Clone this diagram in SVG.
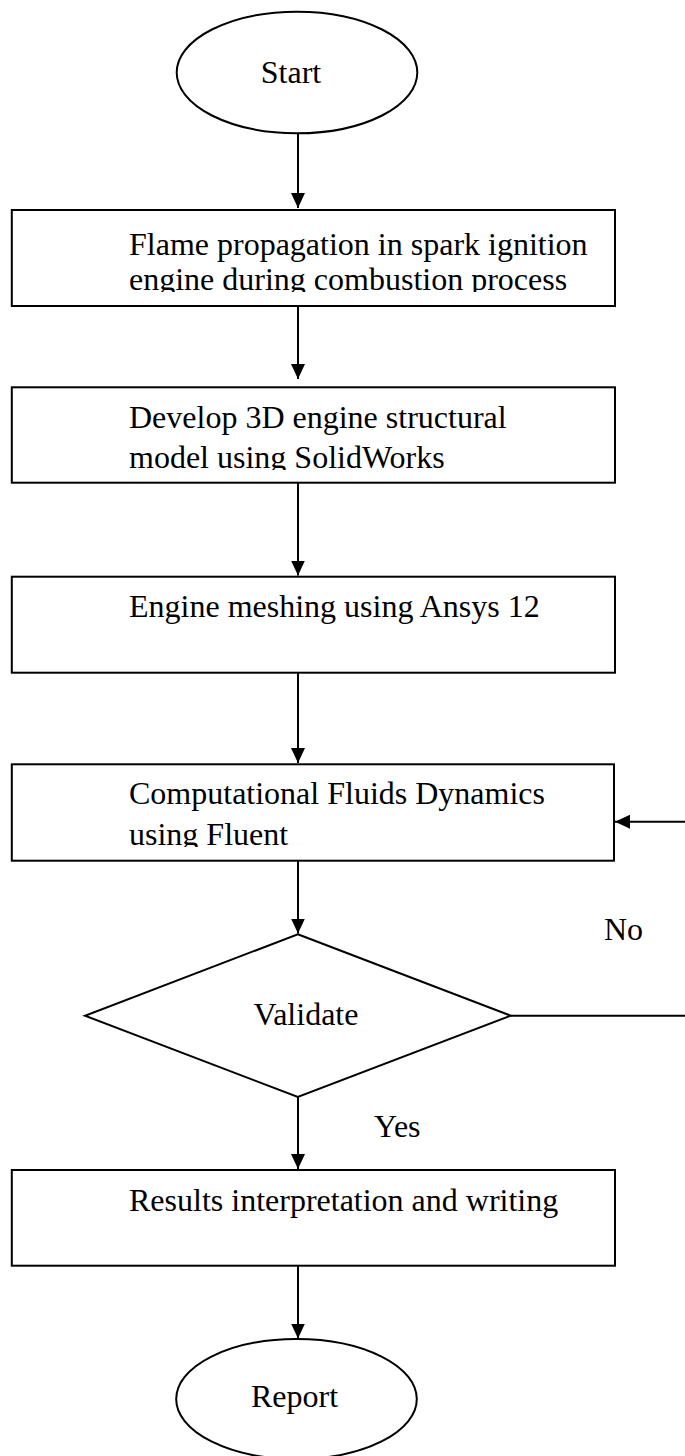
<svg xmlns="http://www.w3.org/2000/svg" width="685" height="1456" viewBox="0 0 685 1456">
<style>
.shape{fill:#fff;stroke:#000;stroke-width:2}
.lbl{font-family:"Liberation Serif","Times New Roman",serif;font-size:32px;fill:#000}
.conn{stroke:#000;stroke-width:2;fill:none}
</style>
<defs>
<marker id="ah" markerUnits="userSpaceOnUse" markerWidth="16" markerHeight="14" refX="15" refY="7" orient="auto"><path d="M0,0 L15,7 L0,14 z" fill="#000"/></marker>
<clipPath id="c1"><rect x="12" y="210" width="602" height="82"/></clipPath>
<clipPath id="c2"><rect x="12" y="387" width="602" height="83"/></clipPath>
<clipPath id="c4"><rect x="12" y="764" width="601" height="83"/></clipPath>
</defs>
<rect x="0" y="0" width="685" height="1456" fill="#fff"/>
<g id="connectors">
<path class="conn" d="M298,133.5 V208" marker-end="url(#ah)"/>
<path class="conn" d="M298,306 V379" marker-end="url(#ah)"/>
<path class="conn" d="M298,483 V575.5" marker-end="url(#ah)"/>
<path class="conn" d="M298,673 V763" marker-end="url(#ah)"/>
<path class="conn" d="M298,861 V933.5" marker-end="url(#ah)"/>
<path class="conn" d="M511,1015.7 H685"/>
<path class="conn" d="M685,821.7 H615" marker-end="url(#ah)"/>
<path class="conn" d="M298,1097 V1169" marker-end="url(#ah)"/>
<path class="conn" d="M298,1266 V1338.5" marker-end="url(#ah)"/>
<text class="lbl" x="604" y="940">No</text>
<text class="lbl" x="374" y="1137">Yes</text>
</g>
<g id="start">
<ellipse class="shape" cx="297" cy="72.5" rx="120.3" ry="60.8"/>
<text class="lbl" x="291" y="83" text-anchor="middle">Start</text>
</g>
<g id="flame">
<rect class="shape" x="11.8" y="210" width="603.2" height="96"/>
<g clip-path="url(#c1)">
<text class="lbl" x="129" y="255">Flame propagation in spark ignition</text>
<text class="lbl" x="129" y="290">engine during combustion process</text>
</g>
</g>
<g id="model">
<rect class="shape" x="11.8" y="387.3" width="603.2" height="95.4"/>
<g clip-path="url(#c2)">
<text class="lbl" x="129" y="428">Develop 3D engine structural</text>
<text class="lbl" x="129" y="468">model using SolidWorks</text>
</g>
</g>
<g id="meshing">
<rect class="shape" x="11.8" y="576.7" width="603.2" height="96"/>
<text class="lbl" x="129" y="617">Engine meshing using Ansys 12</text>
</g>
<g id="cfd">
<rect class="shape" x="11.8" y="764.3" width="602.2" height="96.4"/>
<g clip-path="url(#c4)">
<text class="lbl" x="129" y="804">Computational Fluids Dynamics</text>
<text class="lbl" x="129" y="845">using Fluent</text>
</g>
</g>
<g id="validate">
<polygon class="shape" points="297.8,934.3 510.7,1015.7 297.8,1097 85,1015.7"/>
<text class="lbl" x="306" y="1025" text-anchor="middle">Validate</text>
</g>
<g id="results">
<rect class="shape" x="11.8" y="1170" width="603.2" height="95.7"/>
<text class="lbl" x="129" y="1211">Results interpretation and writing</text>
</g>
<g id="report">
<ellipse class="shape" cx="296.5" cy="1399" rx="120.3" ry="60"/>
<text class="lbl" x="294.5" y="1407" text-anchor="middle">Report</text>
</g>
</svg>
